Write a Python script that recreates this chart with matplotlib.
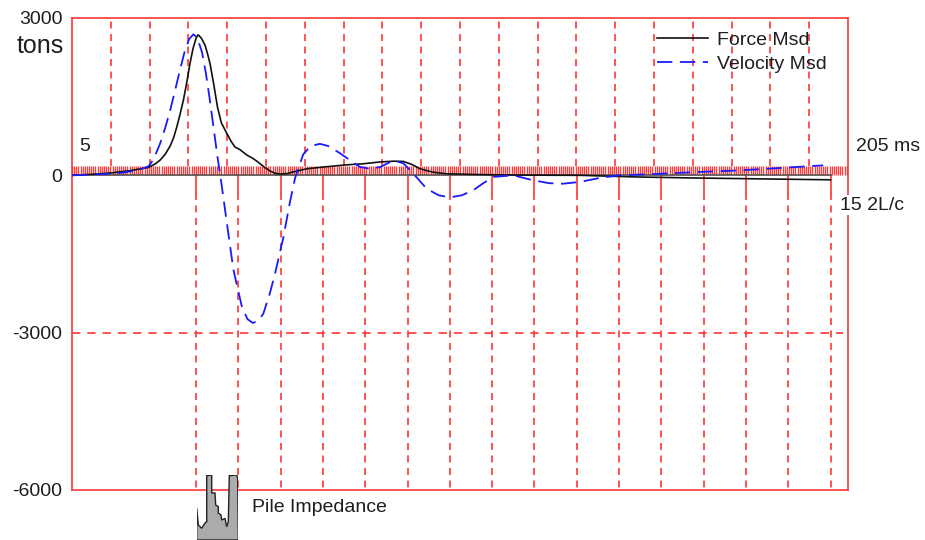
import numpy as np
import matplotlib
matplotlib.use('Agg')
import matplotlib.pyplot as plt

plt.rcParams['font.family'] = ['Liberation Sans', 'DejaVu Sans']
plt.rcParams['lines.scale_dashes'] = False

# ---------------- data ----------------
force_t = [5, 10, 15, 20, 24.7, 26.5, 27.7, 29, 30.3, 31.2, 32, 32.9, 33.7, 34.6, 35.4, 36.2, 37.0, 37.5,
           38.3, 39.3, 40.0, 40.6, 41.5, 42.5, 43.5, 44.9, 46.0, 47.0, 48.3, 50, 51.7, 53, 54.5, 56, 57.3,
           58.6, 60.5, 62, 65.5, 70, 75.8, 80, 84.4, 88, 90.4, 92.5, 94.7, 98, 101.6, 110, 120, 136,
           150, 165, 180, 190, 200.5]
force_v = [0, 20, 45, 90, 150, 220, 290, 400, 560, 720, 920, 1180, 1430, 1780, 2130, 2420, 2620, 2680,
           2620, 2480, 2300, 2120, 1750, 1300, 1000, 800, 650, 540, 490, 390, 320, 250, 160, 85, 40,
           25, 35, 65, 125, 160, 200, 220, 255, 270, 265, 210, 125, 60, 30, 15, 5, 0,
           -30, -50, -65, -75, -85]

vel_t = [5, 12, 18, 21.7, 24.7, 26, 27.7, 29, 30.3, 31.5, 32.8, 34, 35.2, 36.3, 37.3, 38.5, 39.5, 40.5,
         41.5, 42.5, 43.5, 44.9, 46.6, 48.7, 50.2, 51.6, 53, 54.3, 56, 57.5, 59.5, 61.2, 62.5, 64.6, 66.5,
         68.9, 71, 74.1, 77, 79.2, 81.8, 84.5, 87.8, 90.4, 93, 96.4, 99.5, 102.4, 105.5, 108.4, 111,
         113.6, 118.7, 123.9, 128, 131.5, 136, 141, 146, 156.5, 166.9, 177.2, 187.5, 198.6]
vel_v = [0, 20, 50, 95, 170, 300, 605, 900, 1240, 1600, 2000, 2350, 2600, 2690, 2620, 2350, 1950, 1450,
         900, 350, -150, -900, -1800, -2480, -2740, -2815, -2770, -2640, -2250, -1820, -1175, -500, -50,
         400, 560, 600, 560, 420, 270, 160, 125, 160, 285, 230, 30, -255, -380, -420, -380, -285, -150,
         -30, 0, -95, -150, -160, -125, -50, 0, 30, 65, 95, 140, 190]

time_start, time_end = 5, 205
grid_times = list(range(15, 200, 10))
impact_time = 37.0
two_L_over_c = 10.9
n_2lc = 15
y_ticks = [-6000, -3000, 0, 3000]
y_min, y_max = -6000, 3000

impedance_depth = [0, 0, 1.6, 5, 8.3, 10, 10, 15, 15, 18.3, 19, 21.6, 21.6, 24.3, 25, 28.3, 30, 31.6,
                   32.6, 40, 41, 41.6]
impedance_value = [0, 32, 15, 11.7, 17, 18.3, 64.3, 65, 47, 47, 35, 33.3, 27, 25, 20, 21.7, 13.3, 18.3,
                   64.3, 65, 62, 0]

# ---------------- layout ----------------
W, H = 925, 540
fig = plt.figure(figsize=(W / 100, H / 100), dpi=100)


def fx(px):
    return px / W


def fy(py):
    return 1 - py / H


RED = '#ff3535'
TXT = '#1e1e1e'
FS = 14

ax = fig.add_axes([fx(72), fy(490), fx(848) - fx(72), fy(18) - fy(490)])
ax.set_xlim(time_start, time_end)
ax.set_ylim(y_min, y_max)
for s in ax.spines.values():
    s.set_color(RED)
    s.set_linewidth(1.2)
ax.set_xticks([])
ax.set_yticks(y_ticks)
ax.set_yticklabels([str(v) for v in y_ticks])
ax.tick_params(axis='y', length=0, pad=7, labelsize=FS, labelcolor=TXT)

px_per_ton = 472 / (y_max - y_min)
band_h = 9 / px_per_ton
solid_h = 18 / px_per_ton

# 10 ms grid above zero
for t in grid_times:
    ax.plot([t, t], [band_h, y_max], color=RED, lw=1.2, dashes=(5, 4), zorder=1)

# 2L/c markers below zero
marks = [impact_time + i * two_L_over_c for i in range(n_2lc + 1)]
for t in marks:
    ax.plot([t, t], [0, -solid_h], color=RED, lw=1.2, zorder=1)
    ax.plot([t, t], [-solid_h, y_min], color=RED, lw=1.2, dashes=(5, 4), zorder=1)

# -3000 dashed line
ax.plot([time_start, 203.7], [-3000, -3000], color=RED, lw=1.2, dashes=(6, 5), zorder=1)

# sample hatch band
ts = np.arange(time_start, time_end, 0.55)
ax.vlines(ts, 0, band_h, color='#ff3a3a', lw=0.95, zorder=1)

# zero line
ax.plot([time_start, marks[-1]], [0, 0], color='#555555', lw=1.2, zorder=2)

# curves
ax.plot(force_t, force_v, color='#111111', lw=1.2, label='Force Msd', zorder=3)
ax.plot(vel_t, vel_v, color='#1a1aff', lw=1.3, dashes=(11, 5.5), label='Velocity Msd', zorder=3)

leg = ax.legend(loc='upper left', bbox_to_anchor=(fx(657), fy(31)), bbox_transform=fig.transFigure,
                frameon=False, fontsize=FS, handlelength=2.6, handletextpad=0.5, borderpad=0,
                borderaxespad=0, labelspacing=0.34)
for t in leg.get_texts():
    t.set_color(TXT)

# texts
fig.text(fx(17), fy(46), 'tons', fontsize=18, color=TXT, ha='left', va='center')
fig.text(fx(79), fy(147), '5', fontsize=FS, color=TXT, ha='left', va='center')
fig.text(fx(856), fy(147), '205 ms', fontsize=FS, color=TXT, ha='left', va='center')
fig.text(fx(840), fy(205), '15 2L/c', fontsize=FS, color=TXT, ha='left', va='center',
         bbox=dict(facecolor='white', edgecolor='none', pad=1), zorder=5)
fig.text(fx(252), fy(508), 'Pile Impedance', fontsize=FS, color=TXT, ha='left', va='center')

# pile impedance inset
iax = fig.add_axes([fx(196.7), fy(540), fx(238.3) - fx(196.7), fy(475) - fy(540)], zorder=5)
iax.fill(impedance_depth, impedance_value, facecolor='#ababab', edgecolor='#222222', lw=1.0)
iax.set_xlim(0, 41.6)
iax.set_ylim(0, 65)
iax.axis('off')

fig.savefig('out.png', dpi=100)
